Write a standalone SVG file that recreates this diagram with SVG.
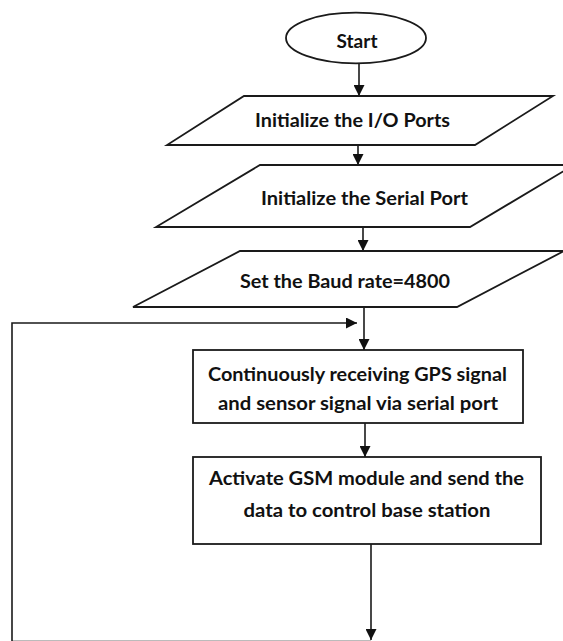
<svg xmlns="http://www.w3.org/2000/svg" width="563" height="641" viewBox="0 0 563 641">
<style>
.shape{fill:#fff;stroke:#1a1a1a;stroke-width:1.8}
.lbl{font-family:Lato,"Open Sans","Liberation Sans",sans-serif;font-weight:700;font-size:19px;fill:#111;text-anchor:middle}
.conn{fill:none;stroke:#1a1a1a;stroke-width:1.6}
</style>
<defs>
<marker id="ah" markerUnits="userSpaceOnUse" markerWidth="12" markerHeight="11" refX="11" refY="5.5" orient="auto">
<path d="M0,0 L11,5.5 L0,11 z" fill="#111"/>
</marker>
</defs>
<rect width="563" height="641" fill="#fff"/>
<g id="connectors">
<line class="conn" x1="359" y1="63.5" x2="359" y2="96" marker-end="url(#ah)"/>
<line class="conn" x1="358" y1="145" x2="358" y2="165" marker-end="url(#ah)"/>
<line class="conn" x1="363" y1="227" x2="363" y2="251" marker-end="url(#ah)"/>
<line class="conn" x1="364" y1="307" x2="364" y2="350" marker-end="url(#ah)"/>
<line class="conn" x1="365" y1="423" x2="365" y2="457" marker-end="url(#ah)"/>
<line class="conn" x1="371" y1="544" x2="371" y2="640" marker-end="url(#ah)"/>
<line x1="12" y1="640.5" x2="371" y2="640.5" stroke="#bbb" stroke-width="1"/>
<path class="conn" d="M12,641 L12,323 L357,323" marker-end="url(#ah)"/>
</g>
<g id="start">
<ellipse class="shape" cx="356" cy="38" rx="70" ry="25.3"/>
<text class="lbl" x="357" y="48" textLength="41" lengthAdjust="spacingAndGlyphs">Start</text>
</g>
<g id="init-io">
<polygon class="shape" points="244,96 553,96 475,145 167,145"/>
<text class="lbl" x="352.5" y="127" textLength="195" lengthAdjust="spacingAndGlyphs">Initialize the I/O Ports</text>
</g>
<g id="init-serial">
<polygon class="shape" points="260,165 574,165 470,227 156,227"/>
<text class="lbl" x="364.5" y="205" textLength="207" lengthAdjust="spacingAndGlyphs">Initialize the Serial Port</text>
</g>
<g id="baud">
<polygon class="shape" points="240,251 564,251 457,307 133,307"/>
<text class="lbl" x="345" y="288" textLength="210" lengthAdjust="spacingAndGlyphs">Set the Baud rate=4800</text>
</g>
<g id="receive">
<rect class="shape" x="193" y="350" width="330" height="73"/>
<text class="lbl" x="357.5" y="381" textLength="299" lengthAdjust="spacingAndGlyphs">Continuously receiving GPS signal</text>
<text class="lbl" x="358" y="410" textLength="280" lengthAdjust="spacingAndGlyphs">and sensor signal via serial port</text>
</g>
<g id="gsm">
<rect class="shape" x="193" y="457" width="348" height="87"/>
<text class="lbl" x="366.5" y="485" textLength="315" lengthAdjust="spacingAndGlyphs">Activate GSM module and send the</text>
<text class="lbl" x="367" y="517" textLength="247" lengthAdjust="spacingAndGlyphs">data to control base station</text>
</g>
</svg>
